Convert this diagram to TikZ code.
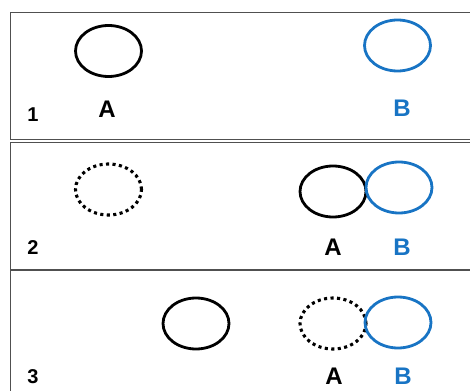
\documentclass[tikz,border=0pt]{standalone}
\usepackage{fontspec}
\setmainfont{Liberation Sans}
\usetikzlibrary{shapes.geometric}
\definecolor{setblue}{RGB}{24,116,196}
\definecolor{framegray}{RGB}{80,80,80}
\tikzset{
  ring/.style={ellipse, draw, line width=2.8pt, inner sep=0pt,
    minimum width=66pt, minimum height=51pt},
  solidring/.style={ring, draw=black},
  bluering/.style={ring, draw=setblue},
  ghostring/.style={ring, draw=black, line width=3.1pt, dash pattern=on 3.1pt off 3.4pt},
  letter/.style={inner sep=0pt, font=\fontsize{24}{24}\selectfont\bfseries},
  stepno/.style={inner sep=0pt, font=\fontsize{20}{20}\selectfont\bfseries},
  panel/.style={draw=framegray, line width=1.2pt}
}
\begin{document}
\begin{tikzpicture}[x=1pt,y=-1pt]
\useasboundingbox (0,0) rectangle (470,390);
\clip (0,0) rectangle (470,390);

% panel frames
\draw[panel] (10.5,12.5) rectangle (480,139.5);
\draw[panel] (10.5,142.5) rectangle (480,270);
\draw[panel] (10.5,270) rectangle (480,400);

% panel 1
\node[solidring] (a1) at (108.5,51) {};
\node[bluering]  (b1) at (397.5,45.5) {};
\node[letter] (la1) at (107,109) {A};
\node[letter, text=setblue] (lb1) at (402,108.5) {B};
\node[stepno] (n1) at (33,115) {1};

% panel 2
\node[ghostring] (g2) at (108.5,189.5) {};
\node[solidring] (a2) at (333,191.5) {};
\node[bluering]  (b2) at (399,187.5) {};
\node[letter] (la2) at (333,247) {A};
\node[letter, text=setblue] (lb2) at (402,247) {B};
\node[stepno] (n2) at (33,248) {2};

% panel 3
\node[solidring] (a3) at (196,323.5) {};
\node[ghostring] (g3) at (333,323.5) {};
\node[bluering]  (b3) at (398,322.5) {};
\node[letter] (la3) at (334,376) {A};
\node[letter, text=setblue] (lb3) at (403,376) {B};
\node[stepno] (n3) at (33,376.5) {3};
\end{tikzpicture}
\end{document}
